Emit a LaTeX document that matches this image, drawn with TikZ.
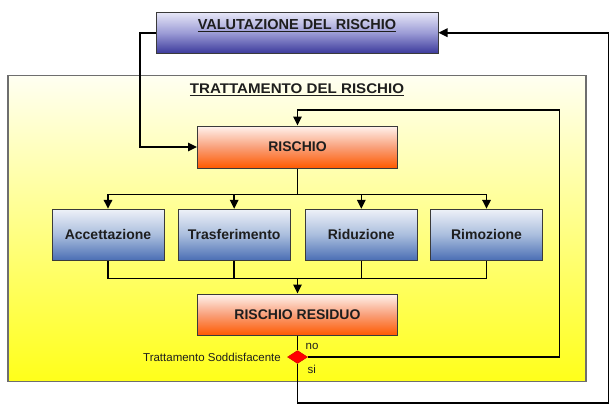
\documentclass[tikz,border=0pt]{standalone}
\usepackage{fontspec}
\setmainfont{Liberation Sans}
\usetikzlibrary{shapes.geometric,arrows.meta}
\definecolor{txt}{HTML}{1E1E1E}
\definecolor{bordc}{HTML}{3A3A3A}
\definecolor{ylTop}{HTML}{FFFFF2}
\definecolor{ylBot}{HTML}{FFFF1A}
\definecolor{ylBord}{HTML}{6E6E6E}
\definecolor{vaTop}{HTML}{E8E8F8}
\definecolor{vaMid}{HTML}{9C9CD6}
\definecolor{vaBot}{HTML}{3C3A9C}
\definecolor{blTop}{HTML}{EEF1F8}
\definecolor{blMid}{HTML}{A9BDDD}
\definecolor{blBot}{HTML}{4A6EB4}
\definecolor{orTop}{HTML}{FFF3EE}
\definecolor{orMid}{HTML}{F9A07A}
\definecolor{orBot}{HTML}{FF5A00}
\tikzset{
  conn/.style={line width=1.6pt, draw=black},
  arr/.style={conn, -{Triangle[length=9pt,width=8.5pt]}},
  boxbase/.style={rectangle, draw=bordc, line width=1pt, inner sep=0pt, text=txt,
    font=\fontsize{14}{16}\selectfont\bfseries},
  bluebox/.style={boxbase, minimum width=112pt, minimum height=51pt,
    top color=blTop, bottom color=blBot, middle color=blMid},
  orbox/.style={boxbase, minimum width=200pt, minimum height=42pt,
    top color=orTop, bottom color=orBot, middle color=orMid},
  smalltxt/.style={inner sep=0pt, text=txt, font=\fontsize{11.5}{13}\selectfont},
}
\begin{document}
\begin{tikzpicture}[x=1pt,y=-1pt]
\useasboundingbox (0,0) rectangle (616,408);
% container
\node[rectangle, draw=ylBord, line width=1.2pt, top color=ylTop, bottom color=ylBot,
  minimum width=578pt, minimum height=306pt, inner sep=0pt] (cont) at (297,228.2) {};
\node[inner sep=0pt, text=txt, font=\fontsize{14}{16}\selectfont\bfseries] (trt) at (297,90)
  {\scalebox{1.08}[1]{\underline{TRATTAMENTO DEL RISCHIO}}};
% valutazione
\node[rectangle, draw=bordc, line width=1pt, top color=vaTop, bottom color=vaBot,
  middle color=vaMid, minimum width=282pt, minimum height=41pt, inner sep=0pt] (val) at (297,32.7) {};
\node[inner sep=0pt, text=txt, font=\fontsize{14.5}{16}\selectfont\bfseries] (valt) at (297,26)
  {\underline{VALUTAZIONE DEL RISCHIO}};
% main column
\node[orbox] (ris) at (297.5,147) {RISCHIO};
\node[bluebox] (acc) at (108,234.8) {Accettazione};
\node[bluebox] (tra) at (234.2,234.8) {Trasferimento};
\node[bluebox] (rid) at (361.3,234.8) {Riduzione};
\node[bluebox] (rim) at (486.5,234.8) {Rimozione};
\node[orbox, minimum height=41pt] (res) at (297.5,314.5) {RISCHIO RESIDUO};
\node[diamond, fill=red, draw=red!80!black, line width=0.4pt, inner sep=0pt,
  minimum width=20pt, minimum height=13pt] (dia) at (297.5,357) {};
% labels
\node[smalltxt, anchor=east] (tsl) at (281,357) {Trattamento Soddisfacente};
\node[smalltxt, anchor=west] (nol) at (305.5,346) {no};
\node[smalltxt, anchor=west] (sil) at (307.5,369) {si};
% coordinates
\coordinate (br) at (297.5,194.3);
\coordinate (mg) at (297.5,278.3);
\coordinate (fbr) at (559.5,110);
\coordinate (ob) at (608.5,403);
% connectors
\draw[arr] (val.west) -- ++(-15.5,0) |- (ris.west);
\draw[conn] (ris.south) -- (br);
\draw[conn] (acc.north |- br) -- (rim.north |- br);
\draw[arr] (acc.north |- br) -- (acc.north);
\draw[arr] (tra.north |- br) -- (tra.north);
\draw[arr] (rid.north |- br) -- (rid.north);
\draw[arr] (rim.north |- br) -- (rim.north);
\draw[conn] (acc.south) |- (mg) -| (rim.south);
\draw[conn] (tra.south) |- (mg);
\draw[conn] (rid.south) |- (mg);
\draw[arr] (mg) -- (res.north);
\draw[conn] (res.south) -- (dia.north);
\draw[arr] (dia.east) -| (fbr) -| (ris.north);
\draw[arr] (dia.south) |- (ob) |- (val.east);
\end{tikzpicture}
\end{document}
